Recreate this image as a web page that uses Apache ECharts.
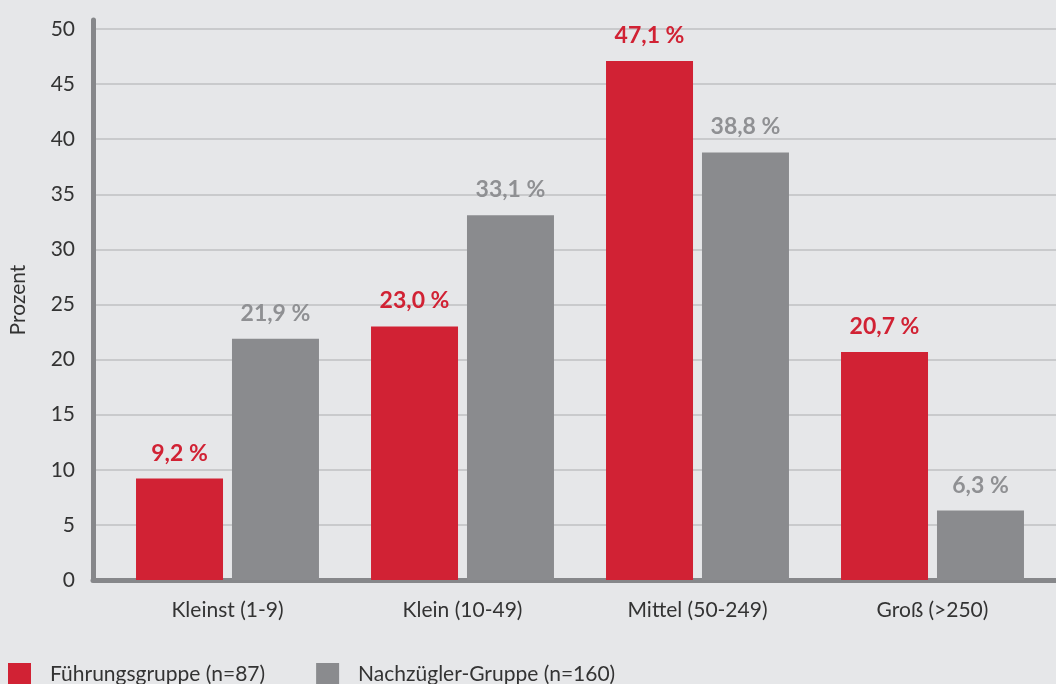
<!DOCTYPE html>
<html>
<head>
<meta charset="utf-8">
<script src="https://cdn.jsdelivr.net/npm/echarts@6/dist/echarts.min.js"></script>
<style>
html,body{margin:0;padding:0;background:#e6e7e9;}
#chart{width:1056px;height:684px;}
</style>
</head>
<body>
<div id="chart"></div>
<script>
const categories = ['Kleinst (1-9)', 'Klein (10-49)', 'Mittel (50-249)', 'Groß (>250)'];
const seriesNames = ['Führungsgruppe (n=87)', 'Nachzügler-Gruppe (n=160)'];
const leaders = [9.2, 23.0, 47.1, 20.7];
const laggards = [21.9, 33.1, 38.8, 6.3];
const yTicks = [0, 5, 10, 15, 20, 25, 30, 35, 40, 45, 50];
const xTicks = [0, 1, 2, 3];

const RED = '#d12234';
const GRAY = '#8a8b8e';
const FONT = 'Lato, "Open Sans", sans-serif';

const chart = echarts.init(document.getElementById('chart'));
const fmt = p => p.value[1].toFixed(1).replace('.', ',') + ' %';

chart.setOption({
  backgroundColor: '#e6e7e9',
  animation: false,
  textStyle: { fontFamily: FONT },
  grid: { left: 93, right: 0, top: 20, bottom: 104, containLabel: false, outerBoundsMode: 'none' },
  legend: {
    left: 8, top: 663, padding: 0,
    itemWidth: 23, itemHeight: 23, itemGap: 51,
    icon: 'rect',
    textStyle: { fontSize: 21, color: '#333', fontFamily: FONT, padding: [0, 0, 0, 14] },
    data: seriesNames
  },
  xAxis: {
    type: 'value',
    min: -0.5 - 17 / 235,
    max: 3.5 + 6 / 235,
    splitLine: { show: false },
    axisTick: { show: false, customValues: xTicks },
    axisLine: { show: true, onZero: false, lineStyle: { color: '#86878a', width: 5 } },
    axisLabel: {
      customValues: xTicks,
      formatter: v => categories[Math.round(v)],
      fontSize: 21, color: '#333', margin: 20, fontFamily: FONT
    }
  },
  yAxis: {
    type: 'value',
    min: 0, max: 50.82,
    name: 'Prozent',
    nameLocation: 'middle',
    nameGap: 64,
    nameTextStyle: { fontSize: 21, color: '#333', fontFamily: FONT },
    axisLine: { show: true, onZero: false, lineStyle: { color: '#86878a', width: 5 } },
    axisTick: { show: false, customValues: yTicks },
    axisLabel: { customValues: yTicks, fontSize: 21, color: '#333', margin: 18, fontFamily: FONT },
    splitLine: { show: true, lineStyle: { color: '#c9cacc', width: 2 } }
  },
  series: [
    {
      name: seriesNames[0], type: 'bar',
      data: leaders.map((v, i) => [i, v]),
      barWidth: 87, barGap: '10.3%',
      itemStyle: { color: RED },
      label: { show: true, position: 'top', distance: 14, formatter: fmt,
        color: RED, fontWeight: 'bold', fontSize: 23, fontFamily: FONT }
    },
    {
      name: seriesNames[1], type: 'bar',
      data: laggards.map((v, i) => [i, v]),
      barWidth: 87, barGap: '10.3%',
      itemStyle: { color: GRAY },
      label: { show: true, position: 'top', distance: 14, formatter: fmt,
        color: '#8f9093', fontWeight: 'bold', fontSize: 23, fontFamily: FONT }
    }
  ]
});
</script>
</body>
</html>
